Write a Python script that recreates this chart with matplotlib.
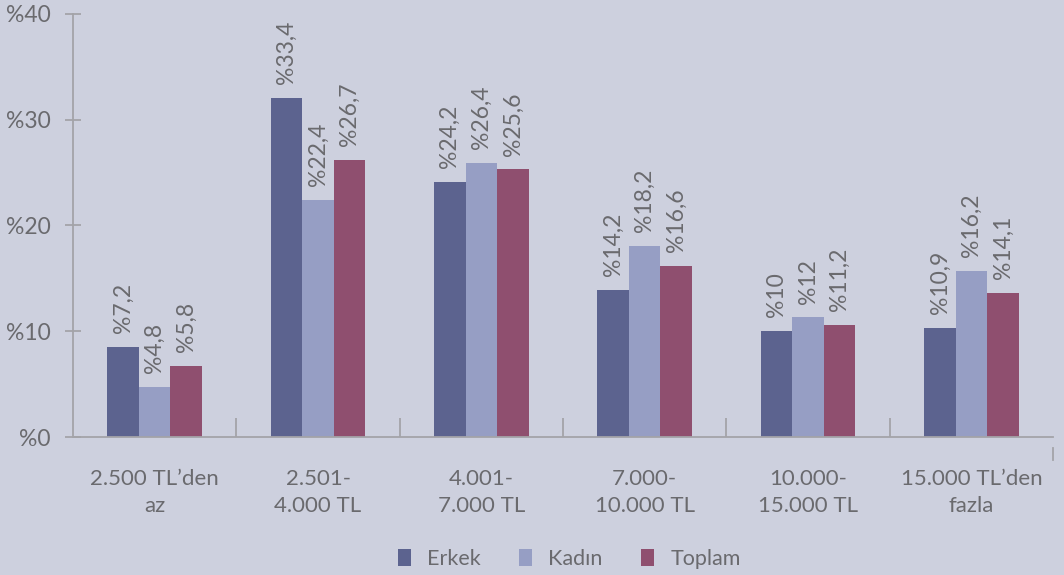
import matplotlib
matplotlib.use("Agg")
import matplotlib.pyplot as plt
import numpy as np

categories = ["2.500 TL\u2019den\naz", "2.501-\n4.000 TL", "4.001-\n7.000 TL",
              "7.000-\n10.000 TL", "10.000-\n15.000 TL", "15.000 TL\u2019den\nfazla"]
series = ["Erkek", "Kad\u0131n", "Toplam"]
# bar heights as drawn in the picture
erkek = [8.5, 32.1, 24.1, 13.9, 10.0, 10.3]
kadin = [4.7, 22.4, 25.9, 18.1, 11.3, 15.7]
toplam = [6.7, 26.2, 25.3, 16.2, 10.6, 13.6]
# value labels as printed
erkek_lbl = ["%7,2", "%33,4", "%24,2", "%14,2", "%10", "%10,9"]
kadin_lbl = ["%4,8", "%22,4", "%26,4", "%18,2", "%12", "%16,2"]
toplam_lbl = ["%5,8", "%26,7", "%25,6", "%16,6", "%11,2", "%14,1"]
yticks = [0, 10, 20, 30, 40]

bg = "#cdd0de"
colors = ["#5c638f", "#969ec4", "#8f4f6f"]
txt = "#6a6a6e"
axc = "#a3a3a8"

plt.rcParams["font.family"] = ["Lato", "DejaVu Sans"]

fig = plt.figure(figsize=(10.64, 5.75), dpi=100, facecolor=bg)
ax = fig.add_axes([0.0686, 0.24, 0.9211, 0.7357], facecolor=bg)

x = np.arange(len(categories))
w = 0.193
vals = [erkek, kadin, toplam]
lbls = [erkek_lbl, kadin_lbl, toplam_lbl]
for i in range(3):
    xs = x + (i - 1) * w
    ax.bar(xs, vals[i], width=w, color=colors[i], label=series[i], zorder=2)
    for xx, v, l in zip(xs, vals[i], lbls[i]):
        ax.annotate(l, (xx, v), xytext=(0, 10), textcoords="offset points",
                    rotation=90, ha="center", va="bottom", fontsize=16.5,
                    color=txt)

ax.set_xlim(-0.5, 5.5)
ax.set_ylim(0, 40)
ax.set_yticks(yticks)
ax.set_yticklabels(["%" + str(t) for t in yticks], fontsize=16.5, color=txt)
ax.tick_params(axis="y", direction="inout", length=12, width=1.3, color=axc, pad=10)
ax.set_xticks(x)
ax.set_xticklabels(categories, fontsize=16, color=txt, linespacing=1.45)
ax.tick_params(axis="x", length=0, pad=23)

for s in ["top", "right"]:
    ax.spines[s].set_visible(False)
for s in ["left", "bottom"]:
    ax.spines[s].set_color(axc)
    ax.spines[s].set_linewidth(1.3)

# category separators
ax.vlines(np.arange(0.5, 5.5, 1.0), 0, 1.8, color=axc, lw=1.3, zorder=1)
ax.plot([1, 1], [-0.025, -0.055], transform=ax.transAxes, color=axc, lw=1.3, clip_on=False)

leg = fig.legend(loc="lower center", bbox_to_anchor=(0.535, -0.023), ncol=3, frameon=False,
                 fontsize=15.5, handlelength=0.6, handleheight=0.8, handletextpad=0.75,
                 columnspacing=1.8)
for t in leg.get_texts():
    t.set_color(txt)

fig.savefig("out.png", dpi=100, facecolor=bg)
